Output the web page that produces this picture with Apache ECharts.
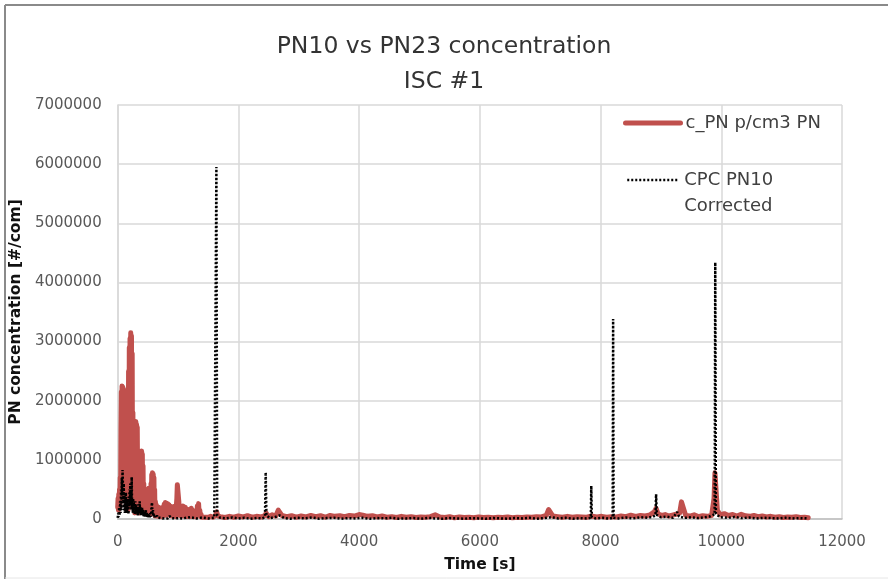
<!DOCTYPE html>
<html>
<head>
<meta charset="utf-8">
<script src="https://cdn.jsdelivr.net/npm/echarts@6/dist/echarts.min.js"></script>
<style>
  html, body { margin: 0; padding: 0; background: #fff; }
  #chart { width: 888px; height: 579px; }
</style>
</head>
<body>
<div id="chart"></div>
<script>
// c_PN p/cm3 PN : time [s] and concentration
const pnTime = [
  0, 6, 12, 18, 24, 30, 36, 42, 48, 54, 60, 66, 72, 78, 84, 90, 96, 102, 108, 114,
  120, 126, 132, 138, 144, 150, 156, 162, 168, 174, 180, 186, 192, 198, 204, 210, 216, 222, 228, 234,
  240, 246, 252, 258, 264, 270, 276, 282, 288, 294, 300, 306, 312, 318, 324, 330, 336, 342, 348, 354,
  360, 366, 372, 378, 384, 390, 396, 402, 408, 414, 420, 426, 432, 438, 444, 450, 456, 462, 468, 474,
  480, 486, 492, 498, 504, 510, 516, 522, 528, 534, 540, 546, 552, 558, 564, 570, 576, 582, 588, 594,
  600, 606, 612, 618, 624, 630, 636, 642, 650, 658, 666, 674, 682, 690, 698, 706, 714, 722, 730, 740,
  750, 760, 770, 780, 790, 800, 810, 820, 830, 840, 850, 860, 870, 880, 890, 900, 910, 920, 930, 940,
  950, 960, 970, 980, 988, 996, 1004, 1012, 1020, 1030, 1040, 1050, 1060, 1070, 1080, 1090, 1100, 1110, 1120, 1130,
  1140, 1150, 1160, 1170, 1180, 1190, 1200, 1210, 1220, 1230, 1240, 1250, 1260, 1270, 1280, 1290, 1300, 1310, 1320, 1330,
  1340, 1350, 1360, 1370, 1380, 1390, 1400, 1430, 1460, 1500, 1540, 1580, 1620, 1640, 1660, 1700, 1780, 1850, 1920, 2000,
  2080, 2150, 2230, 2300, 2380, 2440, 2460, 2500, 2560, 2620, 2660, 2690, 2720, 2800, 2880, 2960, 3040, 3120, 3200, 3280,
  3360, 3440, 3520, 3600, 3680, 3760, 3840, 3920, 4000, 4060, 4140, 4220, 4300, 4380, 4460, 4540, 4620, 4700, 4780, 4860,
  4940, 5020, 5100, 5180, 5260, 5290, 5340, 5420, 5500, 5580, 5660, 5740, 5820, 5900, 5980, 6060, 6140, 6220, 6300, 6380,
  6460, 6540, 6620, 6700, 6780, 6860, 6940, 7020, 7100, 7140, 7170, 7210, 7290, 7370, 7450, 7530, 7610, 7690, 7770, 7840,
  7860, 7940, 8020, 8100, 8180, 8260, 8340, 8420, 8500, 8580, 8660, 8740, 8820, 8890, 8920, 8950, 9010, 9070, 9130, 9190,
  9250, 9310, 9340, 9370, 9410, 9480, 9550, 9620, 9690, 9760, 9840, 9880, 9895, 9915, 9935, 9980, 10050, 10120, 10190, 10260,
  10330, 10400, 10470, 10540, 10610, 10680, 10750, 10820, 10890, 10960, 11030, 11100, 11170, 11240, 11310, 11380, 11440
];
const pnValue = [
  200000, 350000, 150000, 420000, 250000, 500000, 200000, 700000, 300000, 1500000, 2150000, 800000, 2250000, 1200000, 2230000, 600000, 2200000, 1400000, 2100000, 500000,
  1800000, 300000, 1900000, 800000, 1700000, 200000, 1300000, 400000, 1000000, 150000, 2500000, 600000, 2900000, 1000000, 3050000, 400000, 3150000, 1500000, 3100000, 700000,
  2800000, 300000, 1800000, 200000, 1400000, 400000, 1200000, 100000, 1650000, 500000, 1650000, 300000, 1600000, 200000, 1550000, 600000, 1000000, 100000, 700000, 300000,
  500000, 100000, 600000, 200000, 900000, 400000, 1150000, 300000, 1100000, 150000, 900000, 200000, 600000, 100000, 500000, 250000, 450000, 100000, 500000, 200000,
  450000, 80000, 400000, 150000, 500000, 200000, 520000, 100000, 450000, 200000, 350000, 80000, 600000, 250000, 750000, 100000, 780000, 300000, 760000, 150000,
  700000, 100000, 500000, 50000, 300000, 100000, 250000, 50000, 200000, 60000, 180000, 50000, 200000, 40000, 150000, 60000, 170000, 40000, 120000, 50000,
  200000, 80000, 250000, 60000, 280000, 100000, 250000, 70000, 260000, 90000, 240000, 60000, 220000, 80000, 200000, 50000, 180000, 60000, 210000, 50000,
  150000, 40000, 200000, 350000, 580000, 600000, 590000, 300000, 150000, 60000, 200000, 50000, 180000, 60000, 220000, 50000, 180000, 70000, 200000, 50000,
  150000, 40000, 120000, 50000, 160000, 40000, 140000, 60000, 180000, 50000, 120000, 40000, 100000, 50000, 140000, 40000, 120000, 60000, 220000, 100000,
  260000, 80000, 150000, 40000, 80000, 30000, 60000, 30000, 50000, 30000, 45000, 30000, 60000, 120000, 50000, 40000, 25000, 45000, 30000, 50000,
  35000, 55000, 30000, 45000, 35000, 60000, 100000, 40000, 70000, 50000, 150000, 180000, 60000, 40000, 55000, 30000, 50000, 35000, 60000, 40000,
  55000, 30000, 60000, 45000, 55000, 40000, 60000, 50000, 75000, 65000, 45000, 55000, 35000, 50000, 30000, 40000, 25000, 45000, 30000, 40000,
  25000, 35000, 30000, 40000, 70000, 80000, 35000, 25000, 40000, 20000, 35000, 25000, 30000, 20000, 35000, 25000, 30000, 20000, 30000, 25000,
  35000, 20000, 30000, 25000, 35000, 30000, 40000, 35000, 60000, 160000, 150000, 50000, 40000, 30000, 45000, 30000, 40000, 35000, 30000, 50000,
  40000, 35000, 45000, 30000, 40000, 35000, 50000, 40000, 65000, 45000, 60000, 50000, 70000, 120000, 180000, 90000, 60000, 75000, 50000, 65000,
  80000, 100000, 290000, 280000, 60000, 50000, 70000, 40000, 55000, 45000, 60000, 350000, 780000, 760000, 150000, 70000, 90000, 60000, 75000, 50000,
  80000, 55000, 45000, 60000, 40000, 50000, 35000, 45000, 30000, 40000, 25000, 35000, 30000, 40000, 25000, 30000, 20000
];

// CPC PN10 Corrected : time [s] and concentration
const cpcTime = [
  0, 8, 16, 24, 32, 40, 48, 56, 62, 68, 74, 80, 88, 94, 100, 106, 112, 118, 124, 130,
  136, 142, 148, 154, 160, 166, 172, 178, 184, 190, 196, 202, 208, 214, 220, 226, 232, 238, 244, 250,
  256, 262, 268, 274, 280, 286, 292, 298, 304, 310, 316, 322, 328, 334, 340, 346, 352, 358, 364, 370,
  376, 382, 388, 396, 404, 412, 420, 428, 436, 444, 452, 460, 468, 476, 484, 492, 500, 510, 520, 530,
  540, 550, 560, 568, 576, 584, 592, 600, 610, 620, 635, 650, 665, 680, 700, 720, 740, 760, 780, 800,
  830, 860, 890, 920, 950, 980, 1010, 1040, 1070, 1100, 1200, 1300, 1400, 1500, 1600, 1625, 1635, 1648, 1700, 1800,
  1900, 2000, 2100, 2200, 2300, 2400, 2440, 2452, 2464, 2520, 2600, 2680, 2760, 2860, 2980, 3100, 3220, 3340, 3460, 3580,
  3700, 3820, 3940, 4060, 4180, 4300, 4420, 4540, 4660, 4780, 4900, 5020, 5140, 5260, 5380, 5500, 5620, 5740, 5860, 5980,
  6100, 6220, 6340, 6460, 6580, 6700, 6820, 6940, 7060, 7180, 7300, 7420, 7540, 7660, 7780, 7838, 7846, 7855, 7920, 8040,
  8140, 8200, 8208, 8216, 8300, 8420, 8540, 8660, 8780, 8870, 8910, 8920, 8932, 9000, 9100, 9200, 9270, 9300, 9400, 9500,
  9600, 9700, 9800, 9890, 9900, 9910, 9980, 10100, 10220, 10340, 10460, 10580, 10700, 10820, 10940, 11060, 11180, 11300, 11440
];
const cpcValue = [
  20000, 100000, 30000, 200000, 60000, 300000, 100000, 500000, 150000, 700000, 400000, 830000, 820000, 300000, 600000, 150000, 400000, 100000, 300000, 120000,
  450000, 200000, 350000, 100000, 300000, 150000, 250000, 80000, 380000, 200000, 500000, 250000, 600000, 300000, 500000, 150000, 710000, 200000, 300000, 100000,
  350000, 150000, 280000, 100000, 250000, 80000, 300000, 120000, 250000, 80000, 200000, 100000, 180000, 60000, 250000, 100000, 200000, 80000, 300000, 100000,
  200000, 60000, 180000, 80000, 200000, 60000, 150000, 50000, 130000, 40000, 120000, 60000, 150000, 40000, 100000, 30000, 90000, 30000, 80000, 30000,
  100000, 40000, 200000, 280000, 100000, 150000, 40000, 80000, 30000, 70000, 20000, 60000, 20000, 50000, 20000, 40000, 10000, 40000, 15000, 30000,
  10000, 50000, 15000, 40000, 10000, 35000, 15000, 30000, 10000, 25000, 30000, 10000, 25000, 10000, 20000, 30000, 5950000, 60000, 20000, 10000,
  25000, 10000, 20000, 5000, 15000, 10000, 40000, 790000, 60000, 15000, 30000, 60000, 15000, 5000, 20000, 10000, 25000, 5000, 15000, 20000,
  5000, 15000, 10000, 20000, 5000, 15000, 10000, 20000, 5000, 10000, 15000, 5000, 20000, 10000, 5000, 15000, 10000, 5000, 15000, 10000,
  5000, 15000, 10000, 5000, 15000, 10000, 20000, 5000, 15000, 30000, 10000, 20000, 5000, 15000, 10000, 20000, 560000, 30000, 10000, 20000,
  5000, 20000, 3380000, 20000, 10000, 25000, 10000, 30000, 20000, 40000, 60000, 420000, 70000, 30000, 40000, 20000, 120000, 40000, 20000, 30000,
  15000, 25000, 40000, 80000, 4340000, 90000, 30000, 20000, 35000, 15000, 25000, 10000, 20000, 15000, 10000, 20000, 10000, 15000, 10000
];

const xTicks = { min: 0, max: 12000, step: 2000 };
const yTicks = { min: 0, max: 7000000, step: 1000000 };

const seriesNames = ['c_PN p/cm3 PN', 'CPC PN10 Corrected'];
const seriesColors = ['#c0504d', '#000000'];

const zip = (xs, ys) => xs.map((x, i) => [x, ys[i]]);

const chart = echarts.init(document.getElementById('chart'), null, { renderer: 'canvas' });

const tickFont = { fontFamily: 'DejaVu Sans', fontSize: 15, color: '#595959' };
const legendFont = { fontFamily: 'DejaVu Sans', fontSize: 18, color: '#404040' };
const hiddenMarker = { color: 'rgba(0,0,0,0)', borderWidth: 0 };

chart.setOption({
  animation: false,
  backgroundColor: '#ffffff',
  title: {
    text: 'PN10 vs PN23 concentration\nISC #1',
    left: 'center',
    top: 24,
    textStyle: {
      fontFamily: 'DejaVu Sans',
      fontSize: 23.5,
      fontWeight: 'normal',
      color: '#333333',
      lineHeight: 35
    }
  },
  graphic: [
    { type: 'line', shape: { x1: 5, y1: 5, x2: 888, y2: 5 }, style: { stroke: '#8a8a8a', lineWidth: 2 } },
    { type: 'line', shape: { x1: 5, y1: 5, x2: 5, y2: 579 }, style: { stroke: '#8a8a8a', lineWidth: 2 } },
    { type: 'line', shape: { x1: 5, y1: 578, x2: 888, y2: 578 }, style: { stroke: '#e6e6e6', lineWidth: 1 } }
  ],
  legend: [
    {
      data: [seriesNames[0]],
      left: 623,
      top: 114,
      padding: 0,
      itemWidth: 55,
      itemHeight: 14,
      selectedMode: false,
      itemStyle: hiddenMarker,
      lineStyle: { color: seriesColors[0], width: 5, cap: 'round', type: 'solid' },
      textStyle: legendFont
    },
    {
      data: [seriesNames[1]],
      left: 626,
      top: 141,
      padding: 0,
      itemWidth: 52,
      itemHeight: 14,
      selectedMode: false,
      itemStyle: hiddenMarker,
      lineStyle: { color: seriesColors[1], width: 2.5, type: [2, 2] },
      // blank first line keeps "CPC PN10" level with the dotted sample
      formatter: () => ' \nCPC PN10\nCorrected',
      textStyle: { ...legendFont, lineHeight: 26 }
    }
  ],
  grid: { left: 116, right: 46, top: 105, bottom: 60, containLabel: false },
  xAxis: {
    type: 'value',
    min: xTicks.min,
    max: xTicks.max,
    interval: xTicks.step,
    name: 'Time [s]',
    nameLocation: 'middle',
    nameGap: 38,
    nameTextStyle: { fontFamily: 'DejaVu Sans', fontSize: 15.5, fontWeight: 'bold', color: '#111111' },
    axisLine: { show: true, lineStyle: { color: '#bfbfbf', width: 1.5 } },
    axisTick: { show: false },
    axisLabel: { ...tickFont, margin: 16, formatter: v => String(v) },
    splitLine: { show: true, lineStyle: { color: '#d9d9d9', width: 1.5 } }
  },
  yAxis: {
    type: 'value',
    min: yTicks.min,
    max: yTicks.max,
    interval: yTicks.step,
    name: 'PN concentration [#/com]',
    nameLocation: 'middle',
    nameGap: 80,
    nameRotate: 90,
    nameTextStyle: { fontFamily: 'DejaVu Sans', fontSize: 15.5, fontWeight: 'bold', color: '#111111' },
    axisLine: { show: true, lineStyle: { color: '#d9d9d9', width: 1.5 } },
    axisTick: { show: false },
    axisLabel: { ...tickFont, margin: 16, formatter: v => String(v) },
    splitLine: { show: true, lineStyle: { color: '#d9d9d9', width: 1.5 } }
  },
  series: [
    {
      name: seriesNames[0],
      type: 'line',
      data: zip(pnTime, pnValue),
      showSymbol: false,
      symbol: 'none',
      sampling: false,
      color: seriesColors[0],
      lineStyle: { color: seriesColors[0], width: 5, cap: 'round', join: 'round' },
      z: 2
    },
    {
      name: seriesNames[1],
      type: 'line',
      data: zip(cpcTime, cpcValue),
      showSymbol: false,
      symbol: 'none',
      sampling: false,
      color: seriesColors[1],
      lineStyle: { color: seriesColors[1], width: 2.5, type: [2, 2] },
      z: 3
    }
  ]
});
</script>
</body>
</html>
